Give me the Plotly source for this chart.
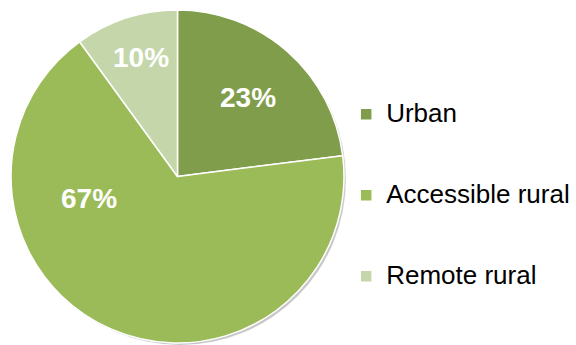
import plotly.graph_objects as go

# Share of population by settlement type
categories = ["Urban", "Accessible rural", "Remote rural"]
shares = [23, 67, 10]
colors = ["#7F9D4A", "#9BBB59", "#C5D7AA"]

# Anchor points of the percentage labels, one per category (paper coords)
label_pos = [(0.4297, 0.717), (0.1540, 0.426), (0.2448, 0.833)]

W, H = 576, 345
CX, CY, D = 177.5, 176.5, 333  # pie centre (px from left/top) and diameter


def pie_domain(dx=0, dy=0):
    cx = (CX + dx) / W
    cy = 1 - (CY + dy) / H
    half_x = D / 2 / W
    return dict(x=[cx - half_x, cx + half_x], y=[0, 2 * cy])


fig = go.Figure()

# soft drop shadow under the pie
for dx, dy, alpha in [(4, 5, 0.05), (3, 3, 0.08), (2, 2, 0.10)]:
    fig.add_trace(go.Pie(
        values=[sum(shares)], labels=["shadow"],
        marker=dict(colors=[f"rgba(0,0,0,{alpha})"], line=dict(width=0)),
        domain=pie_domain(dx, dy),
        textinfo="none", hoverinfo="skip", showlegend=False, sort=False,
    ))

legend_labels = [
    "&nbsp;<br><span style='font-size:26px'>" + c + "</span><br>&nbsp;"
    for c in categories
]

fig.add_trace(go.Pie(
    values=shares,
    labels=legend_labels,
    marker=dict(colors=colors, line=dict(color="white", width=1.5)),
    domain=pie_domain(),
    sort=False,
    direction="clockwise",
    rotation=0,
    textinfo="none",
    hoverinfo="label+percent",
))

for (x, y), v in zip(label_pos, shares):
    fig.add_annotation(
        x=x, y=y, xref="paper", yref="paper",
        text=f"<b>{v}%</b>", showarrow=False,
        font=dict(family="Liberation Sans, Arial", size=28, color="white"),
        xanchor="center", yanchor="middle",
    )

fig.update_layout(
    width=W, height=H,
    margin=dict(l=0, r=0, t=0, b=0, autoexpand=False),
    paper_bgcolor="white",
    plot_bgcolor="white",
    legend=dict(
        x=0.601, y=0.434, xanchor="left", yanchor="middle",
        font=dict(family="Liberation Sans, Arial", size=20, color="#000000"),
        bgcolor="rgba(0,0,0,0)", traceorder="normal",
    ),
)

fig.write_html("out.html")
